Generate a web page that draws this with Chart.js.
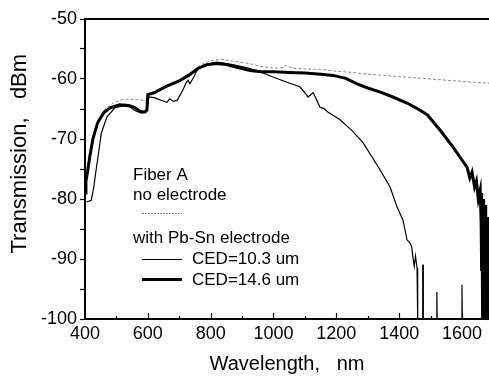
<!DOCTYPE html>
<html>
<head>
<meta charset="utf-8">
<script src="https://cdn.jsdelivr.net/npm/chart.js@4"></script>
<style>
  html, body { margin: 0; padding: 0; background: #fff; }
  #wrap { width: 489px; height: 376px; }
</style>
</head>
<body>
<div id="wrap"><canvas id="chart" width="489" height="376"></canvas></div>
<script>
// fiber A, no electrode (grey dotted trace)
const bareNm = [400, 405, 415, 425, 440, 460, 490, 520, 560, 595, 600, 620, 660, 700, 740, 770, 800, 830, 870, 920, 960, 1000, 1030, 1040, 1060, 1100, 1150, 1200, 1250, 1300, 1350, 1400, 1450, 1500, 1550, 1600, 1650, 1690];
const bareDbm = [-79, -77, -73.5, -70.5, -67.5, -65.2, -64, -63.4, -63.4, -63.6, -62.4, -62.2, -61.3, -60.2, -58.8, -57.6, -56.9, -56.7, -57, -57.4, -57.9, -58.2, -58.1, -57.7, -58.2, -58.3, -58.4, -58.7, -58.9, -59.2, -59.4, -59.6, -59.8, -60, -60.2, -60.4, -60.6, -60.7];

// with Pb-Sn electrode, CED = 10.3 um (thin trace)
const ced103Nm = [405, 420, 428, 433, 440, 452, 470, 495, 520, 545, 560, 580, 595, 599, 603, 620, 640, 661, 670, 680, 693, 712, 722, 728, 734, 745, 756, 780, 820, 870, 920, 957, 1000, 1052, 1084, 1106, 1110, 1126, 1135, 1148, 1160, 1173, 1212, 1250, 1285, 1340, 1371, 1393, 1412, 1418, 1425, 1434, 1440, 1444, 1448, 1452, 1457, 1459, 1474, 1475, 1476, 1477, 1519, 1520, 1521, 1599, 1600, 1601, 1690];
const ced103Dbm = [-80.5, -80.2, -78, -76, -73.5, -69, -66.3, -64.8, -64.5, -64.7, -65.3, -65.7, -65.5, -64.5, -63, -63.1, -63.5, -63.9, -63.3, -63.7, -63.6, -61.8, -60.6, -60.2, -60.8, -59.8, -58.6, -57.6, -57.2, -57.6, -58.2, -58.8, -59.7, -60.7, -61.3, -62.7, -63, -62.3, -63.2, -64.7, -64.9, -65.5, -66.8, -68.6, -70.6, -75.2, -78, -81.3, -83.5, -85, -86.8, -87.3, -88, -89.8, -91.2, -89.5, -91.5, -100, -100, -91, -91, -100, -100, -95.5, -100, -100, -94.3, -100, -100];

// with Pb-Sn electrode, CED = 14.6 um (thick trace, noisy tail past 1660 nm)
const ced146Nm = [400, 403, 408, 415, 425, 440, 460, 480, 510, 540, 560, 575, 590, 597, 600, 620, 660, 700, 730, 760, 790, 820, 850, 880, 925, 960, 1000, 1050, 1100, 1150, 1190, 1230, 1266, 1300, 1340, 1380, 1425, 1460, 1490, 1530, 1571, 1600, 1616, 1625, 1632, 1640, 1646, 1652, 1658, 1661, 1662, 1663, 1664, 1665, 1666, 1667, 1668, 1669, 1670, 1671, 1672, 1673, 1674, 1675, 1676, 1677, 1678, 1679, 1680, 1681, 1682, 1683, 1684, 1685, 1686, 1687];
const ced146Dbm = [-79, -77, -75.5, -73, -70, -67.3, -65.6, -64.8, -64.3, -64.4, -64.8, -65.4, -65.5, -65.2, -62.6, -62.3, -61.2, -60.3, -59.4, -58.2, -57.6, -57.4, -57.6, -58, -58.6, -58.8, -58.8, -58.9, -59, -59.2, -59.4, -59.9, -60.8, -61.5, -62.2, -63, -64, -65, -66, -68.5, -71.3, -73.5, -74.7, -76.5, -75.5, -78, -77, -80, -78.5, -84, -79, -92, -81, -100, -83, -97, -80, -100, -86, -94, -82, -100, -85, -99, -81, -100, -88, -96, -83, -100, -86, -100, -84, -98, -90, -100];

const xTickLabels = [400, 600, 800, 1000, 1200, 1400, 1600];
const yTickLabels = [-100, -90, -80, -70, -60, -50];

const toPoints = (xs, ys) => xs.map((x, i) => ({ x: x, y: ys[i] }));

Chart.defaults.font.family = '"Liberation Sans", Arial, sans-serif';
Chart.defaults.color = '#000';

// inward ticks on the bottom axis, frame line on top, and the text legend
const framePlugin = {
    id: 'frame',
    afterDraw(chart) {
        const ctx = chart.ctx;
        const area = chart.chartArea;
        const xs = chart.scales.x;
        ctx.save();
        ctx.strokeStyle = '#000';
        ctx.lineWidth = 2;
        ctx.beginPath();
        ctx.moveTo(area.left, area.top);
        ctx.lineTo(area.right, area.top);
        ctx.stroke();

        ctx.lineWidth = 1.2;
        for (let v = 400; v <= 1600; v += 100) {
            const px = Math.round(xs.getPixelForValue(v)) + 0.5;
            const len = xTickLabels.includes(v) ? 6 : 3;
            ctx.beginPath();
            ctx.moveTo(px, area.bottom);
            ctx.lineTo(px, area.bottom - len);
            ctx.stroke();
        }

        // legend
        ctx.fillStyle = '#000';
        ctx.font = '17px "Liberation Sans", Arial, sans-serif';
        ctx.textBaseline = 'alphabetic';
        ctx.textAlign = 'left';
        ctx.fillText('Fiber A', 133, 180);
        ctx.fillText('no electrode', 133, 200);
        ctx.fillText('with Pb-Sn electrode', 133, 243);
        ctx.fillText('CED=10.3 um', 192, 264);
        ctx.fillText('CED=14.6 um', 192, 285);

        ctx.strokeStyle = '#8a8a8a';
        ctx.lineWidth = 1;
        ctx.setLineDash([2, 1]);
        ctx.beginPath();
        ctx.moveTo(142, 213.5);
        ctx.lineTo(182, 213.5);
        ctx.stroke();
        ctx.setLineDash([]);

        ctx.strokeStyle = '#000';
        ctx.lineWidth = 1.2;
        ctx.beginPath();
        ctx.moveTo(142, 259.5);
        ctx.lineTo(182, 259.5);
        ctx.stroke();

        ctx.lineWidth = 3;
        ctx.beginPath();
        ctx.moveTo(142, 279.5);
        ctx.lineTo(182, 279.5);
        ctx.stroke();
        ctx.restore();
    }
};

new Chart(document.getElementById('chart').getContext('2d'), {
    type: 'line',
    data: {
        datasets: [
            {
                label: 'CED=14.6 um',
                data: toPoints(ced146Nm, ced146Dbm),
                borderColor: '#000',
                borderWidth: 3,
                pointRadius: 0,
                tension: 0
            },
            {
                label: 'CED=10.3 um',
                data: toPoints(ced103Nm, ced103Dbm),
                borderColor: '#000',
                borderWidth: 1.2,
                pointRadius: 0,
                tension: 0
            },
            {
                label: 'no electrode',
                data: toPoints(bareNm, bareDbm),
                borderColor: '#8a8a8a',
                borderWidth: 1,
                borderDash: [3, 2],
                pointRadius: 0,
                tension: 0
            }
        ]
    },
    options: {
        responsive: false,
        animation: false,
        layout: { padding: { top: 19, right: 0, bottom: 0, left: 0 } },
        plugins: {
            legend: { display: false },
            tooltip: { enabled: false }
        },
        scales: {
            x: {
                type: 'linear',
                min: 400,
                max: 1686,
                afterFit: (scale) => { scale.height = 57; },
                afterBuildTicks: (scale) => {
                    scale.ticks = xTickLabels.map(v => ({ value: v }));
                },
                ticks: {
                    font: { size: 18 },
                    color: '#000',
                    padding: 4,
                    maxRotation: 0,
                    autoSkip: false,
                    callback: (value) => String(value)
                },
                grid: { display: false, drawTicks: false },
                border: { display: true, color: '#000', width: 2 },
                title: {
                    display: true,
                    text: 'Wavelength,   nm',
                    font: { size: 20 },
                    color: '#000',
                    padding: { top: 0, bottom: 0 }
                }
            },
            y: {
                min: -100,
                max: -50,
                afterFit: (scale) => { scale.width = 85; },
                ticks: {
                    stepSize: 5,
                    font: { size: 18 },
                    color: '#000',
                    padding: 3,
                    callback: (value) => yTickLabels.includes(value) ? String(value) : ''
                },
                grid: {
                    display: true,
                    drawOnChartArea: false,
                    drawTicks: true,
                    tickLength: 5,
                    tickColor: '#000',
                    tickWidth: 1.2
                },
                border: { display: true, color: '#000', width: 2 },
                title: {
                    display: true,
                    text: '     Transmission,   dBm',
                    font: { size: 22 },
                    color: '#000',
                    padding: { top: 7, bottom: 0 }
                }
            }
        }
    },
    plugins: [framePlugin]
});
</script>
</body>
</html>
